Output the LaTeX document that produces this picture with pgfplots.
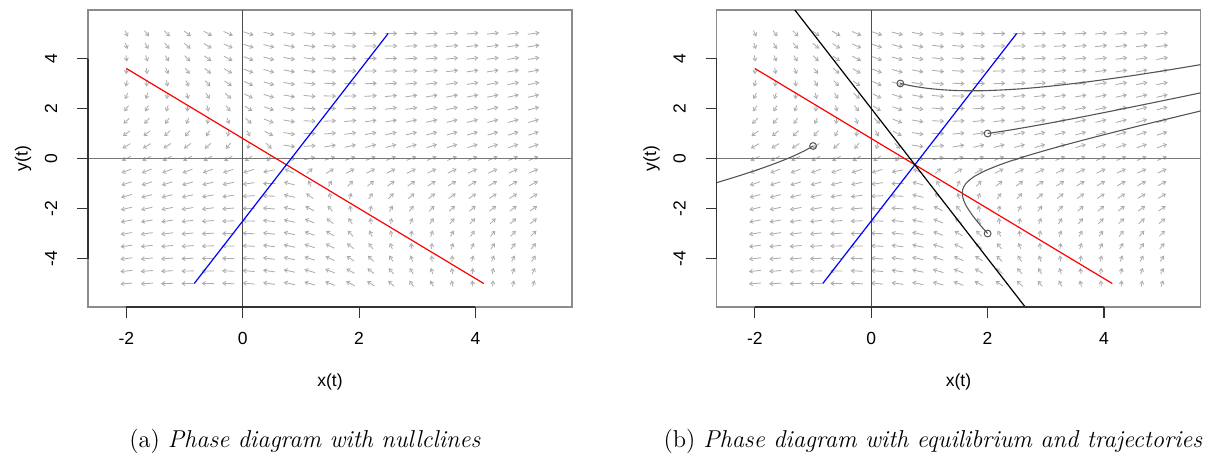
\documentclass[border=0pt]{standalone}
\usepackage{pgfplots}
\pgfplotsset{compat=1.18}
\usepackage{pgfplotstable}
\usepackage{fontspec}
\usetikzlibrary{arrows.meta}
\newfontfamily\arialf{Liberation Sans}
\newcommand\tk{\arialf\fontsize{8.75}{10.5}\selectfont}
\definecolor{fieldgray}{RGB}{172,172,172}
\definecolor{boxgray}{RGB}{140,140,140}
\definecolor{zerogray}{RGB}{120,120,120}
\definecolor{trajgray}{RGB}{85,85,85}

% direction field: grid point (x,y) and derivative (U,V) there
\pgfplotstableread{
x y U V
-2 -5 -8.6 -1.4
-2 -4.5 -8.1 -1.6
-2 -4 -7.6 -1.8
-2 -3.5 -7.1 -2.0
-2 -3 -6.6 -2.2
-2 -2.5 -6.1 -2.4
-2 -2 -5.6 -2.6
-2 -1.5 -5.1 -2.8
-2 -1 -4.6 -3.0
-2 -0.5 -4.1 -3.2
-2 0 -3.6 -3.4
-2 0.5 -3.1 -3.6
-2 1 -2.6 -3.8
-2 1.5 -2.1 -4.0
-2 2 -1.6 -4.2
-2 2.5 -1.1 -4.4
-2 3 -0.6 -4.6
-2 3.5 -0.1 -4.8
-2 4 0.4 -5.0
-2 4.5 0.9 -5.2
-2 5 1.4 -5.4
-1.65 -5 -8.11 -0.98
-1.65 -4.5 -7.61 -1.18
-1.65 -4 -7.11 -1.38
-1.65 -3.5 -6.61 -1.58
-1.65 -3 -6.11 -1.78
-1.65 -2.5 -5.61 -1.98
-1.65 -2 -5.11 -2.18
-1.65 -1.5 -4.61 -2.38
-1.65 -1 -4.11 -2.58
-1.65 -0.5 -3.61 -2.78
-1.65 0 -3.11 -2.98
-1.65 0.5 -2.61 -3.18
-1.65 1 -2.11 -3.38
-1.65 1.5 -1.61 -3.58
-1.65 2 -1.11 -3.78
-1.65 2.5 -0.61 -3.98
-1.65 3 -0.11 -4.18
-1.65 3.5 0.39 -4.38
-1.65 4 0.89 -4.58
-1.65 4.5 1.39 -4.78
-1.65 5 1.89 -4.98
-1.3 -5 -7.62 -0.56
-1.3 -4.5 -7.12 -0.76
-1.3 -4 -6.62 -0.96
-1.3 -3.5 -6.12 -1.16
-1.3 -3 -5.62 -1.36
-1.3 -2.5 -5.12 -1.56
-1.3 -2 -4.62 -1.76
-1.3 -1.5 -4.12 -1.96
-1.3 -1 -3.62 -2.16
-1.3 -0.5 -3.12 -2.36
-1.3 0 -2.62 -2.56
-1.3 0.5 -2.12 -2.76
-1.3 1 -1.62 -2.96
-1.3 1.5 -1.12 -3.16
-1.3 2 -0.62 -3.36
-1.3 2.5 -0.12 -3.56
-1.3 3 0.38 -3.76
-1.3 3.5 0.88 -3.96
-1.3 4 1.38 -4.16
-1.3 4.5 1.88 -4.36
-1.3 5 2.38 -4.56
-0.95 -5 -7.13 -0.14
-0.95 -4.5 -6.63 -0.34
-0.95 -4 -6.13 -0.54
-0.95 -3.5 -5.63 -0.74
-0.95 -3 -5.13 -0.94
-0.95 -2.5 -4.63 -1.14
-0.95 -2 -4.13 -1.34
-0.95 -1.5 -3.63 -1.54
-0.95 -1 -3.13 -1.74
-0.95 -0.5 -2.63 -1.94
-0.95 0 -2.13 -2.14
-0.95 0.5 -1.63 -2.34
-0.95 1 -1.13 -2.54
-0.95 1.5 -0.63 -2.74
-0.95 2 -0.13 -2.94
-0.95 2.5 0.37 -3.14
-0.95 3 0.87 -3.34
-0.95 3.5 1.37 -3.54
-0.95 4 1.87 -3.74
-0.95 4.5 2.37 -3.94
-0.95 5 2.87 -4.14
-0.6 -5 -6.64 0.28
-0.6 -4.5 -6.14 0.08
-0.6 -4 -5.64 -0.12
-0.6 -3.5 -5.14 -0.32
-0.6 -3 -4.64 -0.52
-0.6 -2.5 -4.14 -0.72
-0.6 -2 -3.64 -0.92
-0.6 -1.5 -3.14 -1.12
-0.6 -1 -2.64 -1.32
-0.6 -0.5 -2.14 -1.52
-0.6 0 -1.64 -1.72
-0.6 0.5 -1.14 -1.92
-0.6 1 -0.64 -2.12
-0.6 1.5 -0.14 -2.32
-0.6 2 0.36 -2.52
-0.6 2.5 0.86 -2.72
-0.6 3 1.36 -2.92
-0.6 3.5 1.86 -3.12
-0.6 4 2.36 -3.32
-0.6 4.5 2.86 -3.52
-0.6 5 3.36 -3.72
-0.25 -5 -6.15 0.7
-0.25 -4.5 -5.65 0.5
-0.25 -4 -5.15 0.3
-0.25 -3.5 -4.65 0.1
-0.25 -3 -4.15 -0.1
-0.25 -2.5 -3.65 -0.3
-0.25 -2 -3.15 -0.5
-0.25 -1.5 -2.65 -0.7
-0.25 -1 -2.15 -0.9
-0.25 -0.5 -1.65 -1.1
-0.25 0 -1.15 -1.3
-0.25 0.5 -0.65 -1.5
-0.25 1 -0.15 -1.7
-0.25 1.5 0.35 -1.9
-0.25 2 0.85 -2.1
-0.25 2.5 1.35 -2.3
-0.25 3 1.85 -2.5
-0.25 3.5 2.35 -2.7
-0.25 4 2.85 -2.9
-0.25 4.5 3.35 -3.1
-0.25 5 3.85 -3.3
0.1 -5 -5.66 1.12
0.1 -4.5 -5.16 0.92
0.1 -4 -4.66 0.72
0.1 -3.5 -4.16 0.52
0.1 -3 -3.66 0.32
0.1 -2.5 -3.16 0.12
0.1 -2 -2.66 -0.08
0.1 -1.5 -2.16 -0.28
0.1 -1 -1.66 -0.48
0.1 -0.5 -1.16 -0.68
0.1 0 -0.66 -0.88
0.1 0.5 -0.16 -1.08
0.1 1 0.34 -1.28
0.1 1.5 0.84 -1.48
0.1 2 1.34 -1.68
0.1 2.5 1.84 -1.88
0.1 3 2.34 -2.08
0.1 3.5 2.84 -2.28
0.1 4 3.34 -2.48
0.1 4.5 3.84 -2.68
0.1 5 4.34 -2.88
0.45 -5 -5.17 1.54
0.45 -4.5 -4.67 1.34
0.45 -4 -4.17 1.14
0.45 -3.5 -3.67 0.94
0.45 -3 -3.17 0.74
0.45 -2.5 -2.67 0.54
0.45 -2 -2.17 0.34
0.45 -1.5 -1.67 0.14
0.45 -1 -1.17 -0.06
0.45 -0.5 -0.67 -0.26
0.45 0 -0.17 -0.46
0.45 0.5 0.33 -0.66
0.45 1 0.83 -0.86
0.45 1.5 1.33 -1.06
0.45 2 1.83 -1.26
0.45 2.5 2.33 -1.46
0.45 3 2.83 -1.66
0.45 3.5 3.33 -1.86
0.45 4 3.83 -2.06
0.45 4.5 4.33 -2.26
0.45 5 4.83 -2.46
0.8 -5 -4.68 1.96
0.8 -4.5 -4.18 1.76
0.8 -4 -3.68 1.56
0.8 -3.5 -3.18 1.36
0.8 -3 -2.68 1.16
0.8 -2.5 -2.18 0.96
0.8 -2 -1.68 0.76
0.8 -1.5 -1.18 0.56
0.8 -1 -0.68 0.36
0.8 -0.5 -0.18 0.16
0.8 0 0.32 -0.04
0.8 0.5 0.82 -0.24
0.8 1 1.32 -0.44
0.8 1.5 1.82 -0.64
0.8 2 2.32 -0.84
0.8 2.5 2.82 -1.04
0.8 3 3.32 -1.24
0.8 3.5 3.82 -1.44
0.8 4 4.32 -1.64
0.8 4.5 4.82 -1.84
0.8 5 5.32 -2.04
1.15 -5 -4.19 2.38
1.15 -4.5 -3.69 2.18
1.15 -4 -3.19 1.98
1.15 -3.5 -2.69 1.78
1.15 -3 -2.19 1.58
1.15 -2.5 -1.69 1.38
1.15 -2 -1.19 1.18
1.15 -1.5 -0.69 0.98
1.15 -1 -0.19 0.78
1.15 -0.5 0.31 0.58
1.15 0 0.81 0.38
1.15 0.5 1.31 0.18
1.15 1 1.81 -0.02
1.15 1.5 2.31 -0.22
1.15 2 2.81 -0.42
1.15 2.5 3.31 -0.62
1.15 3 3.81 -0.82
1.15 3.5 4.31 -1.02
1.15 4 4.81 -1.22
1.15 4.5 5.31 -1.42
1.15 5 5.81 -1.62
1.5 -5 -3.7 2.8
1.5 -4.5 -3.2 2.6
1.5 -4 -2.7 2.4
1.5 -3.5 -2.2 2.2
1.5 -3 -1.7 2.0
1.5 -2.5 -1.2 1.8
1.5 -2 -0.7 1.6
1.5 -1.5 -0.2 1.4
1.5 -1 0.3 1.2
1.5 -0.5 0.8 1.0
1.5 0 1.3 0.8
1.5 0.5 1.8 0.6
1.5 1 2.3 0.4
1.5 1.5 2.8 0.2
1.5 2 3.3 0.0
1.5 2.5 3.8 -0.2
1.5 3 4.3 -0.4
1.5 3.5 4.8 -0.6
1.5 4 5.3 -0.8
1.5 4.5 5.8 -1.0
1.5 5 6.3 -1.2
1.85 -5 -3.21 3.22
1.85 -4.5 -2.71 3.02
1.85 -4 -2.21 2.82
1.85 -3.5 -1.71 2.62
1.85 -3 -1.21 2.42
1.85 -2.5 -0.71 2.22
1.85 -2 -0.21 2.02
1.85 -1.5 0.29 1.82
1.85 -1 0.79 1.62
1.85 -0.5 1.29 1.42
1.85 0 1.79 1.22
1.85 0.5 2.29 1.02
1.85 1 2.79 0.82
1.85 1.5 3.29 0.62
1.85 2 3.79 0.42
1.85 2.5 4.29 0.22
1.85 3 4.79 0.02
1.85 3.5 5.29 -0.18
1.85 4 5.79 -0.38
1.85 4.5 6.29 -0.58
1.85 5 6.79 -0.78
2.2 -5 -2.72 3.64
2.2 -4.5 -2.22 3.44
2.2 -4 -1.72 3.24
2.2 -3.5 -1.22 3.04
2.2 -3 -0.72 2.84
2.2 -2.5 -0.22 2.64
2.2 -2 0.28 2.44
2.2 -1.5 0.78 2.24
2.2 -1 1.28 2.04
2.2 -0.5 1.78 1.84
2.2 0 2.28 1.64
2.2 0.5 2.78 1.44
2.2 1 3.28 1.24
2.2 1.5 3.78 1.04
2.2 2 4.28 0.84
2.2 2.5 4.78 0.64
2.2 3 5.28 0.44
2.2 3.5 5.78 0.24
2.2 4 6.28 0.04
2.2 4.5 6.78 -0.16
2.2 5 7.28 -0.36
2.55 -5 -2.23 4.06
2.55 -4.5 -1.73 3.86
2.55 -4 -1.23 3.66
2.55 -3.5 -0.73 3.46
2.55 -3 -0.23 3.26
2.55 -2.5 0.27 3.06
2.55 -2 0.77 2.86
2.55 -1.5 1.27 2.66
2.55 -1 1.77 2.46
2.55 -0.5 2.27 2.26
2.55 0 2.77 2.06
2.55 0.5 3.27 1.86
2.55 1 3.77 1.66
2.55 1.5 4.27 1.46
2.55 2 4.77 1.26
2.55 2.5 5.27 1.06
2.55 3 5.77 0.86
2.55 3.5 6.27 0.66
2.55 4 6.77 0.46
2.55 4.5 7.27 0.26
2.55 5 7.77 0.06
2.9 -5 -1.74 4.48
2.9 -4.5 -1.24 4.28
2.9 -4 -0.74 4.08
2.9 -3.5 -0.24 3.88
2.9 -3 0.26 3.68
2.9 -2.5 0.76 3.48
2.9 -2 1.26 3.28
2.9 -1.5 1.76 3.08
2.9 -1 2.26 2.88
2.9 -0.5 2.76 2.68
2.9 0 3.26 2.48
2.9 0.5 3.76 2.28
2.9 1 4.26 2.08
2.9 1.5 4.76 1.88
2.9 2 5.26 1.68
2.9 2.5 5.76 1.48
2.9 3 6.26 1.28
2.9 3.5 6.76 1.08
2.9 4 7.26 0.88
2.9 4.5 7.76 0.68
2.9 5 8.26 0.48
3.25 -5 -1.25 4.9
3.25 -4.5 -0.75 4.7
3.25 -4 -0.25 4.5
3.25 -3.5 0.25 4.3
3.25 -3 0.75 4.1
3.25 -2.5 1.25 3.9
3.25 -2 1.75 3.7
3.25 -1.5 2.25 3.5
3.25 -1 2.75 3.3
3.25 -0.5 3.25 3.1
3.25 0 3.75 2.9
3.25 0.5 4.25 2.7
3.25 1 4.75 2.5
3.25 1.5 5.25 2.3
3.25 2 5.75 2.1
3.25 2.5 6.25 1.9
3.25 3 6.75 1.7
3.25 3.5 7.25 1.5
3.25 4 7.75 1.3
3.25 4.5 8.25 1.1
3.25 5 8.75 0.9
3.6 -5 -0.76 5.32
3.6 -4.5 -0.26 5.12
3.6 -4 0.24 4.92
3.6 -3.5 0.74 4.72
3.6 -3 1.24 4.52
3.6 -2.5 1.74 4.32
3.6 -2 2.24 4.12
3.6 -1.5 2.74 3.92
3.6 -1 3.24 3.72
3.6 -0.5 3.74 3.52
3.6 0 4.24 3.32
3.6 0.5 4.74 3.12
3.6 1 5.24 2.92
3.6 1.5 5.74 2.72
3.6 2 6.24 2.52
3.6 2.5 6.74 2.32
3.6 3 7.24 2.12
3.6 3.5 7.74 1.92
3.6 4 8.24 1.72
3.6 4.5 8.74 1.52
3.6 5 9.24 1.32
3.95 -5 -0.27 5.74
3.95 -4.5 0.23 5.54
3.95 -4 0.73 5.34
3.95 -3.5 1.23 5.14
3.95 -3 1.73 4.94
3.95 -2.5 2.23 4.74
3.95 -2 2.73 4.54
3.95 -1.5 3.23 4.34
3.95 -1 3.73 4.14
3.95 -0.5 4.23 3.94
3.95 0 4.73 3.74
3.95 0.5 5.23 3.54
3.95 1 5.73 3.34
3.95 1.5 6.23 3.14
3.95 2 6.73 2.94
3.95 2.5 7.23 2.74
3.95 3 7.73 2.54
3.95 3.5 8.23 2.34
3.95 4 8.73 2.14
3.95 4.5 9.23 1.94
3.95 5 9.73 1.74
4.3 -5 0.22 6.16
4.3 -4.5 0.72 5.96
4.3 -4 1.22 5.76
4.3 -3.5 1.72 5.56
4.3 -3 2.22 5.36
4.3 -2.5 2.72 5.16
4.3 -2 3.22 4.96
4.3 -1.5 3.72 4.76
4.3 -1 4.22 4.56
4.3 -0.5 4.72 4.36
4.3 0 5.22 4.16
4.3 0.5 5.72 3.96
4.3 1 6.22 3.76
4.3 1.5 6.72 3.56
4.3 2 7.22 3.36
4.3 2.5 7.72 3.16
4.3 3 8.22 2.96
4.3 3.5 8.72 2.76
4.3 4 9.22 2.56
4.3 4.5 9.72 2.36
4.3 5 10.22 2.16
4.65 -5 0.71 6.58
4.65 -4.5 1.21 6.38
4.65 -4 1.71 6.18
4.65 -3.5 2.21 5.98
4.65 -3 2.71 5.78
4.65 -2.5 3.21 5.58
4.65 -2 3.71 5.38
4.65 -1.5 4.21 5.18
4.65 -1 4.71 4.98
4.65 -0.5 5.21 4.78
4.65 0 5.71 4.58
4.65 0.5 6.21 4.38
4.65 1 6.71 4.18
4.65 1.5 7.21 3.98
4.65 2 7.71 3.78
4.65 2.5 8.21 3.58
4.65 3 8.71 3.38
4.65 3.5 9.21 3.18
4.65 4 9.71 2.98
4.65 4.5 10.21 2.78
4.65 5 10.71 2.58
5 -5 1.2 7.0
5 -4.5 1.7 6.8
5 -4 2.2 6.6
5 -3.5 2.7 6.4
5 -3 3.2 6.2
5 -2.5 3.7 6.0
5 -2 4.2 5.8
5 -1.5 4.7 5.6
5 -1 5.2 5.4
5 -0.5 5.7 5.2
5 0 6.2 5.0
5 0.5 6.7 4.8
5 1 7.2 4.6
5 1.5 7.7 4.4
5 2 8.2 4.2
5 2.5 8.7 4.0
5 3 9.2 3.8
5 3.5 9.7 3.6
5 4 10.2 3.4
5 4.5 10.7 3.2
5 5 11.2 3.0
}\field

\pgfplotsset{
  phase/.style={
    width=242pt, height=148.5pt, scale only axis,
    anchor=south west,
    xmin=-2.66, xmax=5.66, ymin=-5.94, ymax=5.94,
    axis line style={boxgray, line width=0.6pt},
    xtick=\empty, ytick=\empty,
    clip=false,
  },
  field/.style={
    fieldgray, line width=0.42pt, -{Straight Barb[length=1.5pt,width=2pt]},
    quiver={
      u={0.21*\thisrow{U}/sqrt((\thisrow{U})^2+(\thisrow{V})^2)},
      v={0.25*\thisrow{V}/sqrt((\thisrow{U})^2+(\thisrow{V})^2)},
    },
  },
  /pgfplots/table/centred/.style={
    x expr={\thisrow{x}-0.105*\thisrow{U}/sqrt((\thisrow{U})^2+(\thisrow{V})^2)},
    y expr={\thisrow{y}-0.125*\thisrow{V}/sqrt((\thisrow{U})^2+(\thisrow{V})^2)},
  },
}

% R-style axes: line from first to last tick and the labels
\newcommand\axislabels{%
  \draw[black!80, line width=0.55pt] (axis cs:-2,-5.94) -- (axis cs:4,-5.94);
  \draw[black!80, line width=0.55pt] (axis cs:-2.66,-4) -- (axis cs:-2.66,4);
  \node[font=\tk] at ([yshift=-15.5pt]axis cs:-2,-5.94) {-2};
  \node[font=\tk] at ([yshift=-15.5pt]axis cs:0,-5.94) {0};
  \node[font=\tk] at ([yshift=-15.5pt]axis cs:2,-5.94) {2};
  \node[font=\tk] at ([yshift=-15.5pt]axis cs:4,-5.94) {4};
  \node[font=\tk, rotate=90] at ([xshift=-18.5pt]axis cs:-2.66,-4) {-4};
  \node[font=\tk, rotate=90] at ([xshift=-18.5pt]axis cs:-2.66,-2) {-2};
  \node[font=\tk, rotate=90] at ([xshift=-18.5pt]axis cs:-2.66,0) {0};
  \node[font=\tk, rotate=90] at ([xshift=-18.5pt]axis cs:-2.66,2) {2};
  \node[font=\tk, rotate=90] at ([xshift=-18.5pt]axis cs:-2.66,4) {4};
  \node[font=\tk] at ([yshift=-37.5pt]axis cs:1.5,-5.94) {x(t)};
  \node[font=\tk, rotate=90] at ([xshift=-32.5pt]axis cs:-2.66,0) {y(t)};
}

\begin{document}
\begin{tikzpicture}
\useasboundingbox (0,0) rectangle (606.5pt,-227.5pt);

% (a) nullclines
\begin{axis}[phase, at={(44pt,-153.5pt)}]
\addplot[field] table[centred] {\field};
\addplot[zerogray, line width=0.9pt] coordinates {(-2.66,0) (5.66,0)};
\addplot[black!70, line width=0.6pt] coordinates {(0,-5.94) (0,5.94)};
\addplot[red, line width=0.6pt] coordinates {(-2,3.6) (4.1429,-5)};
\addplot[blue, line width=0.6pt] coordinates {(-0.8333,-5) (2.5,5)};
\axislabels
\end{axis}

% (b) equilibrium and trajectories
\begin{axis}[phase, at={(358.25pt,-153.5pt)}]
\addplot[field] table[centred] {\field};
\addplot[zerogray, line width=0.9pt] coordinates {(-2.66,0) (5.66,0)};
\addplot[black!70, line width=0.6pt] coordinates {(0,-5.94) (0,5.94)};
\addplot[red, line width=0.6pt] coordinates {(-2,3.6) (4.1429,-5)};
\addplot[blue, line width=0.6pt] coordinates {(-0.8333,-5) (2.5,5)};
\addplot[black, line width=0.6pt] coordinates {(-1.3133,5.94) (2.6467,-5.94)};
\addplot[trajgray, line width=0.55pt, smooth] coordinates {
  (0.5,3.0) (0.743,2.884) (1.028,2.791) (1.425,2.722) (1.919,2.712) (2.503,2.776)
  (3.065,2.890) (3.722,3.068) (4.367,3.274) (5.003,3.501) (5.66,3.753)};
\addplot[trajgray, line width=0.55pt, smooth] coordinates {
  (2,1) (2.357,1.128) (2.879,1.337) (3.599,1.652) (4.415,2.029) (5.227,2.415) (5.66,2.625)};
\addplot[trajgray, line width=0.55pt, smooth] coordinates {
  (2,-3) (1.857,-2.618) (1.725,-2.225) (1.620,-1.842) (1.570,-1.526) (1.571,-1.246)
  (1.626,-1.004) (1.757,-0.741) (1.956,-0.493) (2.261,-0.208) (2.676,0.107)
  (3.245,0.488) (3.922,0.904) (4.703,1.361) (5.66,1.901)};
\addplot[trajgray, line width=0.55pt, smooth] coordinates {
  (-1,0.5) (-1.1445,0.313) (-1.352,0.085) (-1.612,-0.162) (-1.926,-0.426)
  (-2.294,-0.708) (-2.66,-0.968)};
\addplot[trajgray, only marks, mark=o, mark size=1.7pt, line width=0.5pt] coordinates {
  (0.5,3) (2,1) (2,-3) (-1,0.5)};
\axislabels
\end{axis}

% outward tick marks of both panels
\foreach \px in {63.2,121.37,179.55,237.72,377.45,435.62,493.8,551.97}
  \draw[black!80, line width=0.55pt] (\px pt,-153.5pt) -- (\px pt,-159pt);
\foreach \py in {-129.25,-104.25,-79.25,-54.25,-29.25} {
  \draw[black!80, line width=0.55pt] (44pt,\py pt) -- (38.5pt,\py pt);
  \draw[black!80, line width=0.55pt] (358.25pt,\py pt) -- (352.75pt,\py pt);
}

\node[font=\fontsize{12.2}{14}\selectfont] at (152.5pt,-220.5pt) {(a)\ \textit{Phase diagram with nullclines}};
\node[font=\fontsize{12.2}{14}\selectfont] at (466.5pt,-220.5pt) {(b)\ \textit{Phase diagram with equilibrium and trajectories}};
\end{tikzpicture}
\end{document}
